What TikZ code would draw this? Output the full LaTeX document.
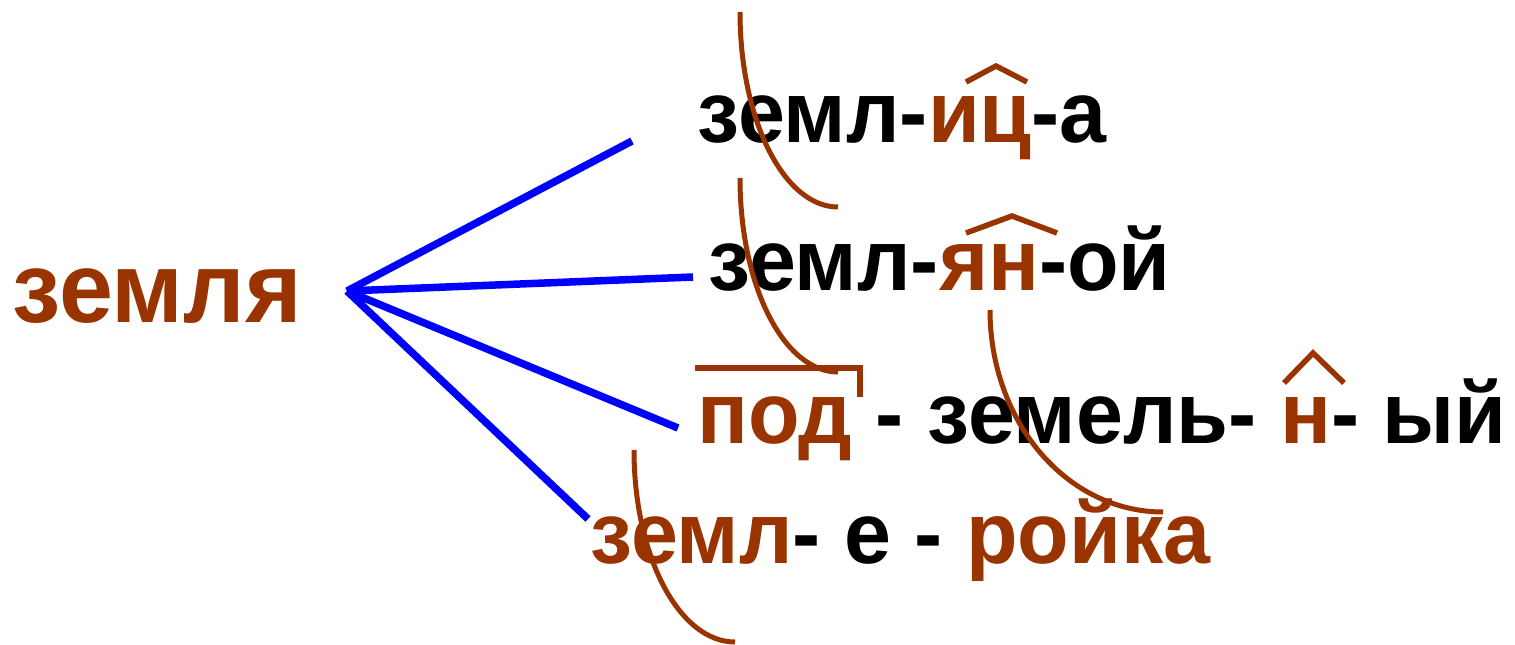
\documentclass[tikz,border=0pt]{standalone}
\usepackage{fontspec}
\setmainfont{Liberation Sans}
\newfontfamily\uzkiy[FakeStretch=0.97]{Liberation Sans}
\definecolor{korich}{HTML}{993300}

\begin{document}
\begin{tikzpicture}[x=1pt,y=-1pt,
    slovo/.style={inner sep=0pt, anchor=base west, font=\uzkiy\fontsize{87}{90}\selectfont\bfseries},
    vetka/.style={blue, line width=7.5pt},
    duga/.style={korich, line width=5pt},
    kryshka/.style={korich, line width=5.5pt}]
  \useasboundingbox (0,0) rectangle (1515,645);

  \node[slovo, text=korich, font=\uzkiy\fontsize{100}{100}\selectfont\bfseries] (zemlya) at (12,322) {земля};
  \node[slovo] (zemlica) at (697,142) {земл-\textcolor{korich}{иц}-а};
  \node[slovo] (zemlyanoy) at (708,290) {земл-\textcolor{korich}{ян}-ой};
  \node[slovo] (podzemny) at (697,443) {\textcolor{korich}{под} - земель- \textcolor{korich}{н}- ый};
  \node[slovo] (zemleroyka) at (590,563) {\textcolor{korich}{земл}- е - \textcolor{korich}{ройка}};

  \coordinate (uzel) at (347,291);
  \coordinate (k1) at (632,141);
  \coordinate (k2) at (693,277);
  \coordinate (k3) at (678,428);
  \coordinate (k4) at (588,519);
  \draw[vetka] (uzel) -- (k1);
  \draw[vetka] (uzel) -- (k2);
  \draw[vetka] (uzel) -- (k3);
  \draw[vetka] (uzel) -- (k4);

  \draw[duga] (740,12) .. controls (740,120) and (784,207) .. (838,207);
  \draw[duga] (740,178) .. controls (740,286) and (784,372) .. (838,372);
  \draw[duga] (990,310) .. controls (990,422) and (1067,512) .. (1163,512);
  \draw[duga] (634,450) .. controls (634,556) and (679,642) .. (735,642);

  \draw[kryshka] (966,82) -- (996,66) -- (1027,82);
  \draw[kryshka] (966,233) -- (1012,216) -- (1057,233);
  \draw[kryshka] (1284,383) -- (1313,353) -- (1344,383);
  \draw[kryshka, line cap=butt] (695,368) -- (860,368) -- (860,397);
\end{tikzpicture}
\end{document}
